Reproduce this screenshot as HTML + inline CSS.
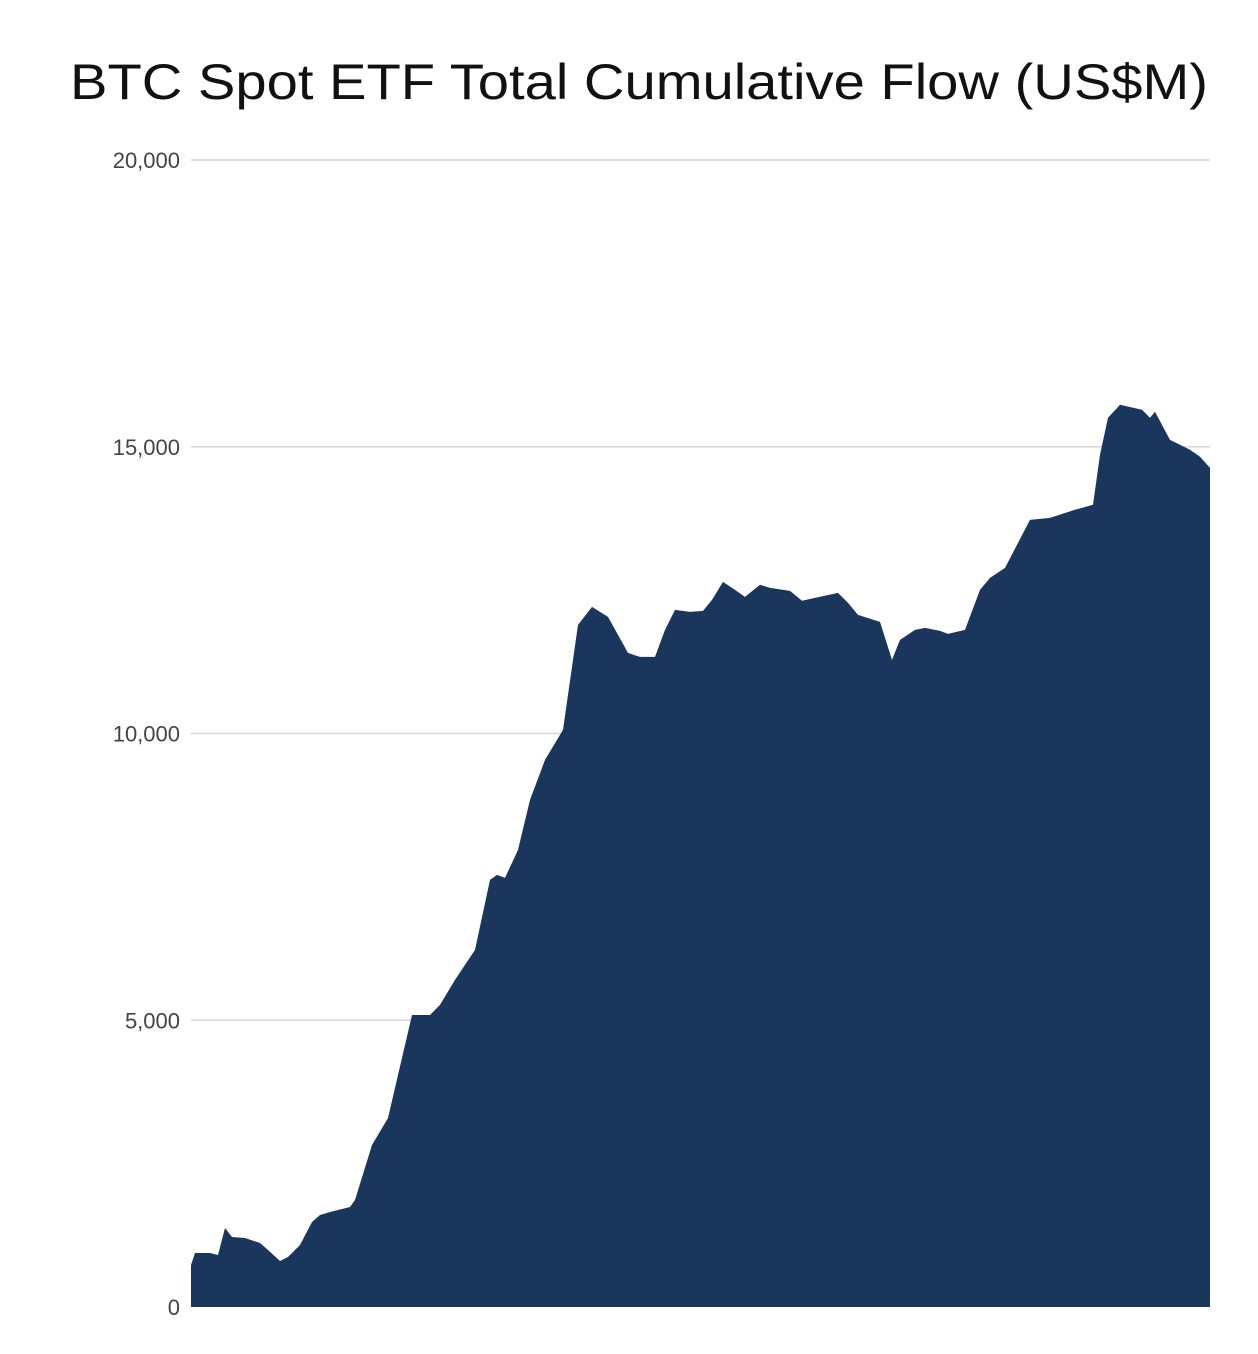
<!DOCTYPE html>
<html><head><meta charset="utf-8"><style>
html,body{margin:0;padding:0;background:#fff;width:1258px;height:1354px;overflow:hidden}
svg text{font-family:"Liberation Sans",sans-serif}
</style></head><body>
<svg width="1258" height="1354">
<text x="70" y="99" font-size="50" fill="#111" textLength="1138" lengthAdjust="spacingAndGlyphs">BTC Spot ETF Total Cumulative Flow (US$M)</text>
<g id="grid"></g><g id="ticks"></g><path id="area" fill="#1b365d"></path>
</svg>
<script>
const days=[0,4,19,27,34,41,54,69,77,89,97,109,121,129,139,159,164,181,197,207,221,239,249,264,284,299,306,314,327,339,354,372,387,401,417,437,449,464,474,484,499,512,521,532,544,554,569,579,599,611,624,647,657,667,689,701,709,724,734,749,757,774,789,799,814,827,839,859,884,902,909,917,929,951,959,964,979,999,1009,1019];
const flows=[732,942,942,907,1378,1221,1203,1116,994,802,872,1081,1482,1604,1657,1744,1866,2825,3296,4046,5092,5092,5267,5703,6226,7447,7534,7482,7970,8842,9540,10063,11894,12208,12034,11406,11336,11336,11807,12156,12121,12138,12330,12644,12504,12382,12592,12539,12487,12313,12365,12452,12278,12068,11946,11284,11632,11807,11842,11789,11737,11807,12504,12714,12888,13324,13725,13760,13900,13987,14859,15504,15731,15644,15504,15609,15120,14946,14824,14632];
const yTicks=[0,5000,10000,15000,20000];
const yTickLabels=["0","5,000","10,000","15,000","20,000"];
const X0=191,X1=1210,Y0=1307,Y1=160;
const xs=d=>X0+(d-days[0])/(days[days.length-1]-days[0])*(X1-X0);
const ys=v=>Y0-v/20000*(Y0-Y1);
const ns="http://www.w3.org/2000/svg";
const grid=document.getElementById('grid'),tk=document.getElementById('ticks');
yTicks.forEach((t,i)=>{
 if(t>0){const l=document.createElementNS(ns,'line');
 l.setAttribute('x1',X0);l.setAttribute('x2',X1);l.setAttribute('y1',ys(t));l.setAttribute('y2',ys(t));
 l.setAttribute('stroke','#d6d6d6');l.setAttribute('stroke-width','1.5');
 
 
 grid.appendChild(l);}
 const tx=document.createElementNS(ns,'text');
 tx.setAttribute('x',180);tx.setAttribute('y',ys(t)+8);tx.setAttribute('text-anchor','end');
 tx.setAttribute('font-size','22');tx.setAttribute('fill','#444');tx.textContent=yTickLabels[i];
 
 
 tk.appendChild(tx);
});
let d='M'+xs(days[0])+','+Y0;
days.forEach((dd,i)=>{d+=' L'+xs(dd).toFixed(1)+','+ys(flows[i]).toFixed(1);});
d+=' L'+xs(days[days.length-1])+','+Y0+' Z';
document.getElementById('area').setAttribute('d',d);
</script>
</body></html>
